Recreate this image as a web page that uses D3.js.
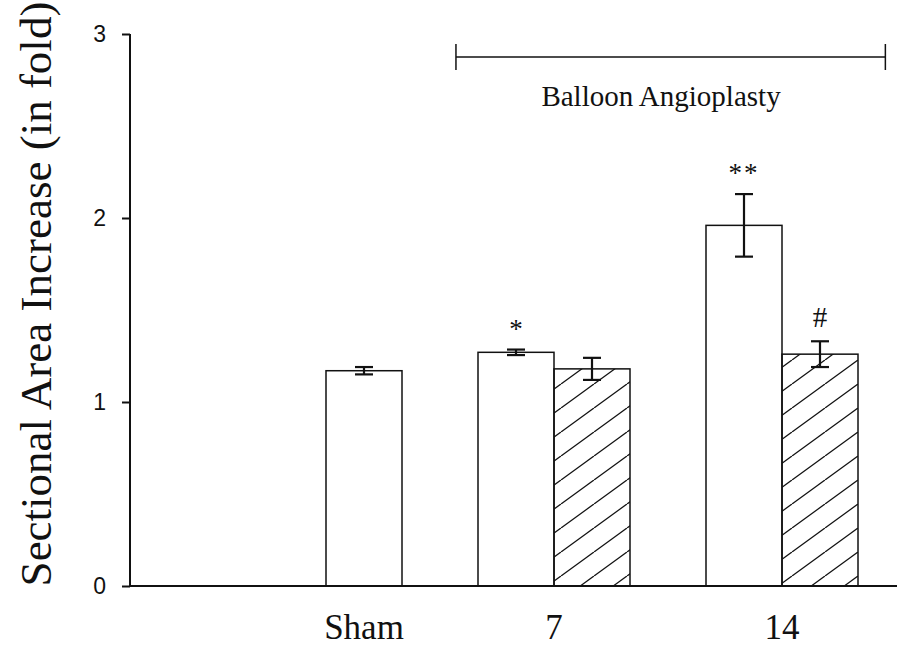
<!DOCTYPE html>
<html>
<head>
<meta charset="utf-8">
<script src="https://cdn.jsdelivr.net/npm/d3@7"></script>
<style>
  body { margin: 0; background: #fff; }
  svg { display: block; }
</style>
</head>
<body>
<div id="chart"></div>
<script>
// values
var groups = ["Sham", "7", "14"];
var openMean = [1.17, 1.27, 1.96];
var openErr = [0.02, 0.015, 0.17];
var hatchedMean = [null, 1.18, 1.26];
var hatchedErr = [null, 0.06, 0.07];
var openMarks = ["", "*", "**"];
var hatchedMarks = ["", "", "#"];
var yTicks = [0, 1, 2, 3];
var yLabel = "Sectional Area Increase (in fold)";
var bracketLabel = "Balloon Angioplasty";
var bracketGroups = ["7", "14"];

var width = 899, height = 657;
var ink = "#111";
var serif = "'Liberation Serif', 'Times New Roman', serif";
var sans = "'Liberation Sans', Arial, sans-serif";

var svg = d3.select("#chart").append("svg")
    .attr("width", width)
    .attr("height", height);

// hatch pattern: "/" lines, tile corner to corner
var hw = 33, hh = 24;
var pat = svg.append("defs").append("pattern")
    .attr("id", "hatch")
    .attr("patternUnits", "userSpaceOnUse")
    .attr("width", hw)
    .attr("height", hh);
[-hw, 0, hw].forEach(function(off) {
    pat.append("line")
        .attr("x1", off).attr("y1", hh)
        .attr("x2", off + hw).attr("y2", 0)
        .attr("stroke", ink)
        .attr("stroke-width", 1.3);
});

// slots: one per bar position, with an empty one between 7 and 14
var slots = [];
groups.forEach(function(g, i) {
    slots.push(g + "|open");
    slots.push(g + "|hatched");
    if (i == 1) slots.push("gap");
});

var x = d3.scaleBand()
    .domain(slots)
    .range([326, 858])
    .padding(0);

var y = d3.scaleLinear()
    .domain([0, 3])
    .range([586, 34]);

var axisLeft = 130, axisRight = 897;

// bars data
var bars = [];
groups.forEach(function(g, i) {
    bars.push({group: g, kind: "open", mean: openMean[i], err: openErr[i], mark: openMarks[i]});
    if (hatchedMean[i] != null)
        bars.push({group: g, kind: "hatched", mean: hatchedMean[i], err: hatchedErr[i], mark: hatchedMarks[i]});
});

var bw = x.bandwidth();

svg.append("g").selectAll("rect")
    .data(bars)
    .enter().append("rect")
    .attr("x", d => x(d.group + "|" + d.kind))
    .attr("y", d => y(d.mean))
    .attr("width", bw)
    .attr("height", d => y(0) - y(d.mean))
    .attr("fill", d => d.kind == "hatched" ? "url(#hatch)" : "#fff")
    .attr("stroke", ink)
    .attr("stroke-width", 1.5);

// error bars
var eb = svg.append("g").selectAll("g")
    .data(bars)
    .enter().append("g")
    .attr("stroke", ink)
    .attr("stroke-width", 2.2);

var cx = d => x(d.group + "|" + d.kind) + bw / 2;

eb.append("line")
    .attr("x1", cx).attr("x2", cx)
    .attr("y1", d => y(d.mean - d.err))
    .attr("y2", d => y(d.mean + d.err));
eb.append("line")
    .attr("x1", d => cx(d) - 9).attr("x2", d => cx(d) + 9)
    .attr("y1", d => y(d.mean + d.err))
    .attr("y2", d => y(d.mean + d.err));
eb.append("line")
    .attr("x1", d => cx(d) - 9).attr("x2", d => cx(d) + 9)
    .attr("y1", d => y(d.mean - d.err))
    .attr("y2", d => y(d.mean - d.err));

// significance marks
svg.append("g").selectAll("text")
    .data(bars.filter(d => d.mark))
    .enter().append("text")
    .attr("x", cx)
    .attr("y", d => y(d.mean + d.err) - (d.mark == "#" ? 14 : 12))
    .attr("text-anchor", "middle")
    .attr("font-family", serif)
    .attr("font-size", d => d.mark == "#" ? 29 : 27)
    .attr("letter-spacing", d => d.mark == "**" ? 2 : 0)
    .attr("fill", ink)
    .text(d => d.mark);

// y axis
var yAxis = d3.axisLeft(y)
    .tickValues(yTicks)
    .tickFormat(d3.format("d"))
    .tickSize(8)
    .tickPadding(16);

var gy = svg.append("g")
    .attr("transform", "translate(" + axisLeft + ",0)")
    .call(yAxis);
gy.select(".domain").remove();
gy.selectAll(".tick line").attr("stroke", ink).attr("stroke-width", 2);
gy.selectAll(".tick text")
    .attr("font-family", sans)
    .attr("font-size", 23)
    .attr("fill", ink);

svg.append("line")
    .attr("x1", axisLeft).attr("x2", axisLeft)
    .attr("y1", y(3)).attr("y2", y(0))
    .attr("stroke", ink).attr("stroke-width", 2);

// x axis baseline
svg.append("line")
    .attr("x1", axisLeft).attr("x2", axisRight)
    .attr("y1", y(0)).attr("y2", y(0))
    .attr("stroke", ink).attr("stroke-width", 2);

// group labels, centred on the bars present
svg.append("g").selectAll("text")
    .data(groups)
    .enter().append("text")
    .attr("x", (g, i) => hatchedMean[i] != null ? x(g + "|hatched") : x(g + "|open") + bw / 2)
    .attr("y", 639)
    .attr("text-anchor", "middle")
    .attr("font-family", serif)
    .attr("font-size", 35)
    .attr("fill", ink)
    .text(g => g);

// y label
svg.append("text")
    .attr("transform", "translate(51,294) rotate(-90)")
    .attr("text-anchor", "middle")
    .attr("font-family", serif)
    .attr("font-size", 45)
    .attr("fill", ink)
    .text(yLabel);

// balloon angioplasty bracket
var bx0 = x(bracketGroups[0] + "|open") - 0.29 * bw;
var bx1 = x(bracketGroups[1] + "|hatched") + 1.36 * bw;
var by = 57;
var br = svg.append("g").attr("stroke", ink).attr("stroke-width", 1.5);
br.append("line").attr("x1", bx0).attr("x2", bx1).attr("y1", by).attr("y2", by);
br.append("line").attr("x1", bx0).attr("x2", bx0).attr("y1", by - 13).attr("y2", by + 13);
br.append("line").attr("x1", bx1).attr("x2", bx1).attr("y1", by - 13).attr("y2", by + 13);

svg.append("text")
    .attr("x", 661)
    .attr("y", 106)
    .attr("text-anchor", "middle")
    .attr("font-family", serif)
    .attr("font-size", 29)
    .attr("fill", ink)
    .text(bracketLabel);
</script>
</body>
</html>
